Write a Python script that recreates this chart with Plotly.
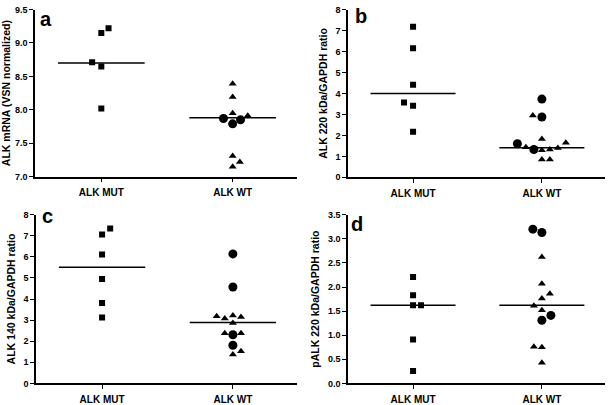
import plotly.graph_objects as go

CATEGORIES = ["ALK MUT", "ALK WT"]

# Panel a: ALK mRNA (VSN normalized)
A_MUT = [9.22, 9.15, 8.71, 8.65, 8.02]
A_WT_TRI = [8.39, 8.19, 7.95, 7.91, 7.31, 7.22, 7.15]
A_WT_CIR = [7.87, 7.79, 7.85]
A_MEANS = [8.70, 7.88]

# Panel b: ALK 220 kDa/GAPDH ratio
B_MUT = [7.18, 6.16, 4.42, 3.57, 3.41, 2.17]
B_WT_TRI = [2.95, 1.83, 1.44, 1.29, 1.33, 1.40, 1.65, 0.85, 0.85]
B_WT_CIR = [3.73, 2.88, 1.60, 1.33]
B_MEANS = [4.0, 1.41]

# Panel c: ALK 140 kDa/GAPDH ratio
C_MUT = [7.35, 7.06, 6.11, 4.95, 3.81, 3.13]
C_WT_TRI = [3.18, 3.08, 3.22, 3.15, 2.86, 2.38, 2.38, 1.53, 1.37]
C_WT_CIR = [6.14, 4.57, 2.31, 1.81]
C_MEANS = [5.51, 2.89]

# Panel d: pALK 220 kDa/GAPDH ratio
D_MUT = [2.21, 1.83, 1.62, 1.62, 0.91, 0.26]
D_WT_TRI = [2.62, 2.07, 1.86, 1.76, 1.61, 1.52, 0.76, 0.75, 0.43]
D_WT_CIR = [3.20, 3.13, 1.41, 1.31]
D_MEANS = [1.62, 1.62]

# horizontal scatter offsets (category units) to reproduce the point spread
J_A_MUT = [0.055, 0, -0.07, 0, 0]
J_A_TRI = [0, 0, 0, 0.115, 0, 0.055, 0]
J_A_CIR = [-0.07, 0, 0.06]
J_B_MUT = [0, 0, 0, -0.07, 0, 0]
J_B_TRI = [-0.07, 0, -0.124, 0, 0.062, 0.124, 0.186, 0, 0.062]
J_B_CIR = [0, 0, -0.19, -0.062]
J_C_MUT = [0.062, 0, 0, 0, 0, 0]
J_C_TRI = [-0.124, -0.062, 0, 0.062, 0, -0.062, 0.062, 0.062, 0]
J_C_CIR = [0, 0, 0, 0]
J_D_MUT = [0, 0, 0, 0.062, 0, 0]
J_D_TRI = [0, 0, 0.062, 0, -0.062, 0, -0.062, 0, 0]
J_D_CIR = [-0.07, 0, 0.07, 0]

FONT = "Liberation Sans, Arial, sans-serif"

panels = [
    dict(mut=A_MUT, tri=A_WT_TRI, cir=A_WT_CIR, means=A_MEANS,
         jm=J_A_MUT, jt=J_A_TRI, jc=J_A_CIR,
         title="ALK mRNA (VSN normalized)", yr=[7, 9.5], dtick=0.5, fmt=".1f", letter="a"),
    dict(mut=B_MUT, tri=B_WT_TRI, cir=B_WT_CIR, means=B_MEANS,
         jm=J_B_MUT, jt=J_B_TRI, jc=J_B_CIR,
         title="ALK 220 kDa/GAPDH ratio", yr=[0, 8], dtick=1, fmt="d", letter="b"),
    dict(mut=C_MUT, tri=C_WT_TRI, cir=C_WT_CIR, means=C_MEANS,
         jm=J_C_MUT, jt=J_C_TRI, jc=J_C_CIR,
         title="ALK 140 kDa/GAPDH ratio", yr=[0, 8], dtick=1, fmt="d", letter="c"),
    dict(mut=D_MUT, tri=D_WT_TRI, cir=D_WT_CIR, means=D_MEANS,
         jm=J_D_MUT, jt=J_D_TRI, jc=J_D_CIR,
         title="pALK 220 kDa/GAPDH ratio", yr=[0, 3.5], dtick=0.5, fmt=".1f", letter="d"),
]

W, H = 609, 405
xdoms = [[35 / W, 297 / W], [348 / W, 605 / W], [36 / W, 297 / W], [348 / W, 605 / W]]
ydoms = [[1 - 176 / H, 1 - 4.7 / H], [1 - 176.7 / H, 1 - 4.7 / H],
         [1 - 388 / H, 1 - 215 / H], [1 - 388 / H, 1 - 215 / H]]
letter_pos = [(46, 14), (361, 11), (47, 216.5), (357, 224.5)]

fig = go.Figure()
layout = dict(width=W, height=H, margin=dict(l=0, r=0, t=0, b=0),
              paper_bgcolor="white", plot_bgcolor="white", showlegend=False,
              font=dict(family=FONT, color="black"))
annotations = []
HALF = 0.33

for i, p in enumerate(panels):
    n = "" if i == 0 else str(i + 1)
    xa, ya = "x" + n, "y" + n
    fig.add_trace(go.Scatter(
        x=[0 + j for j in p["jm"]], y=p["mut"], mode="markers", xaxis=xa, yaxis=ya,
        marker=dict(symbol="square", size=6, color="black")))
    fig.add_trace(go.Scatter(
        x=[1 + j for j in p["jt"]], y=p["tri"], mode="markers", xaxis=xa, yaxis=ya,
        marker=dict(symbol="triangle-up", size=7, color="black")))
    fig.add_trace(go.Scatter(
        x=[1 + j for j in p["jc"]], y=p["cir"], mode="markers", xaxis=xa, yaxis=ya,
        marker=dict(symbol="circle", size=9, color="black")))
    for k, m in enumerate(p["means"]):
        fig.add_trace(go.Scatter(
            x=[k - HALF, k + HALF], y=[m, m], mode="lines", xaxis=xa, yaxis=ya,
            line=dict(color="black", width=1.5)))
    layout["xaxis" + n] = dict(
        domain=xdoms[i], anchor=ya, range=[-0.505, 1.49],
        tickvals=[0, 1], ticktext=CATEGORIES, showline=True, linecolor="black",
        linewidth=1.5, ticks="outside", ticklen=4, tickwidth=1.2, tickcolor="black",
        showgrid=False, zeroline=False, ticklabelstandoff=2,
        tickfont=dict(family=FONT, size=10, color="black", weight="bold"))
    layout["yaxis" + n] = dict(
        domain=ydoms[i], anchor=xa, range=p["yr"], dtick=p["dtick"], tick0=p["yr"][0],
        tickformat=p["fmt"], showline=True, linecolor="black", linewidth=1.5,
        ticks="outside", ticklen=4, tickwidth=1.2, tickcolor="black",
        showgrid=False, zeroline=False,
        tickfont=dict(family=FONT, size=9, color="black", weight="bold"),
        title=dict(text=p["title"], standoff=6,
                   font=dict(family=FONT, size=10.5, color="black", weight="bold")))
    lx, ly = letter_pos[i]
    annotations.append(dict(
        x=lx / W, y=1 - ly / H, xref="paper", yref="paper", text=p["letter"],
        showarrow=False, xanchor="center", yanchor="middle",
        font=dict(family=FONT, size=20, color="black", weight="bold")))

layout["annotations"] = annotations
fig.update_layout(**layout)
fig.write_html("out.html", config={"displayModeBar": False},
               post_script="document.body.style.margin='0px';document.body.style.overflow='hidden';")
